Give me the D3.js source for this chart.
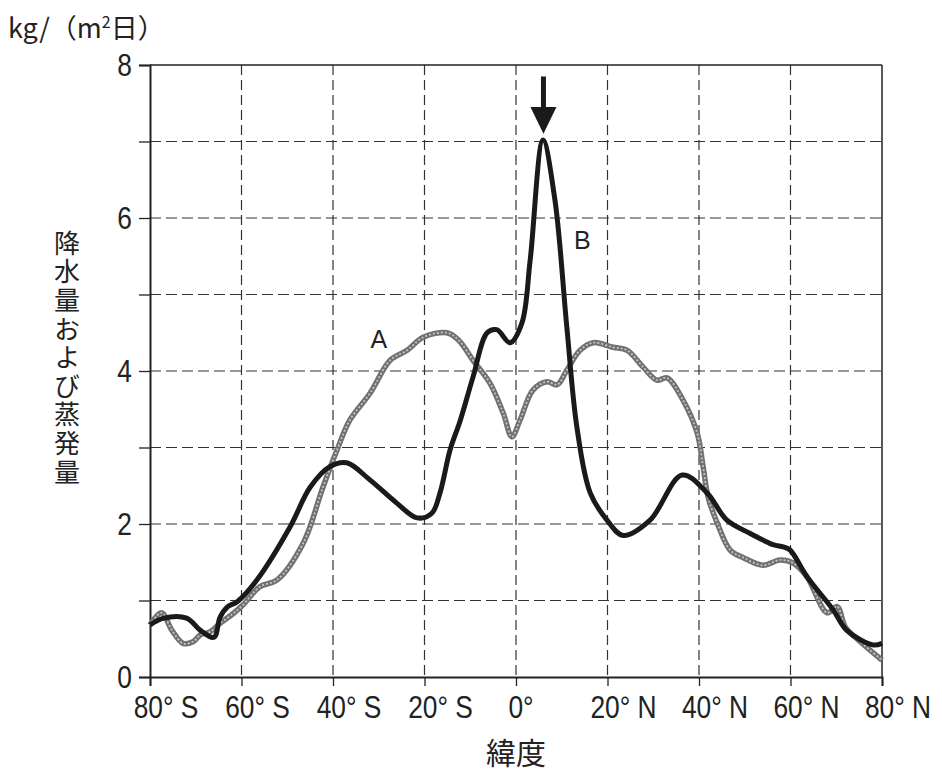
<!DOCTYPE html>
<html>
<head>
<meta charset="utf-8">
<script src="https://cdn.jsdelivr.net/npm/d3@7"></script>
<style>
  body { margin: 0; background: #fff; }
  text { font-family: "Liberation Sans", Arial, sans-serif; fill: #222; }
  .jp { font-family: "Noto Sans CJK JP", sans-serif; }
</style>
</head>
<body>
<div id="chart"></div>
<script>
// latitude ticks and labels
const latTicks = [-80, -60, -40, -20, 0, 20, 40, 60, 80];
const latLabels = ["80° S", "60° S", "40° S", "20° S", "0°", "20° N", "40° N", "60° N", "80° N"];
const valTicks = [0, 2, 4, 6, 8];

// curve A (gray): [latitude, kg/(m2 day)]
const seriesA = [
  [-80, 0.68], [-77.5, 0.84], [-75.2, 0.61], [-72.8, 0.44], [-70.6, 0.46], [-69, 0.55],
  [-66.9, 0.59], [-64.7, 0.70], [-61.8, 0.83], [-59.7, 0.94], [-56, 1.18], [-52.2, 1.27],
  [-46.5, 1.75], [-42.2, 2.48], [-39.1, 2.97], [-36.3, 3.36], [-31.9, 3.71], [-27.5, 4.14],
  [-23.8, 4.27], [-20.3, 4.44], [-15.1, 4.5], [-12.5, 4.4], [-9.4, 4.14], [-5.7, 3.84],
  [-2.8, 3.45], [-0.9, 3.14], [0.9, 3.36], [3.7, 3.75], [6.8, 3.86], [9, 3.82],
  [11.1, 4.01], [14, 4.27], [16.9, 4.37], [21.2, 4.31], [24.3, 4.27], [27.8, 4.05],
  [30.8, 3.88], [33, 3.91], [36.5, 3.62], [39.6, 3.19], [40.9, 2.75], [42, 2.35],
  [44, 2.01], [46.8, 1.66], [49.7, 1.56], [54, 1.46], [57.7, 1.53], [60.6, 1.49],
  [63.6, 1.31], [68, 0.84], [70.2, 0.92], [72, 0.65], [74.9, 0.48], [80, 0.22]
];

// curve B (black)
const seriesB = [
  [-80, 0.68], [-77, 0.77], [-72, 0.77], [-69, 0.61], [-66, 0.52], [-64.7, 0.78],
  [-63, 0.92], [-61, 0.98], [-56.6, 1.27], [-49.4, 1.96], [-45, 2.48], [-40.7, 2.75],
  [-37, 2.80], [-32, 2.58], [-26, 2.27], [-21.6, 2.08], [-18.4, 2.14], [-16.6, 2.41],
  [-14.4, 2.97], [-12.2, 3.35], [-9.4, 3.92], [-6.3, 4.5], [-4.2, 4.54], [-1.3, 4.37],
  [1.3, 4.63], [3.1, 5.45], [5.9, 7.02], [8.5, 6.24], [11.1, 4.58], [13.3, 3.27],
  [16.2, 2.41], [19.9, 2.05], [23.4, 1.85], [29.3, 2.05], [36.3, 2.64], [41.7, 2.41],
  [46.1, 2.05], [51.1, 1.88], [56.2, 1.73], [58.4, 1.70], [59.9, 1.66], [63.6, 1.31],
  [69.3, 0.88], [72.3, 0.61], [78, 0.42], [80, 0.44]
];

const width = 942, height = 773;
const margin = { top: 65, right: 60, bottom: 96, left: 150 };
const w = width - margin.left - margin.right,
      h = height - margin.top - margin.bottom;

const svg = d3.select("#chart").append("svg")
  .attr("width", width)
  .attr("height", height);

const g = svg.append("g")
  .attr("transform", "translate(" + margin.left + "," + margin.top + ")");

const x = d3.scaleLinear().domain([-80, 80]).range([0, w]);
const y = d3.scaleLinear().domain([0, 8]).range([h, 0]);

// grid
g.selectAll(".hgrid")
  .data(d3.range(1, 8))
  .enter().append("line")
  .attr("x1", 0).attr("x2", w)
  .attr("y1", d => y(d)).attr("y2", d => y(d))
  .attr("stroke", "#333").attr("stroke-width", 1.2)
  .attr("stroke-dasharray", "11,5");

g.selectAll(".vgrid")
  .data(latTicks.slice(1, -1))
  .enter().append("line")
  .attr("y1", 0).attr("y2", h)
  .attr("x1", d => x(d)).attr("x2", d => x(d))
  .attr("stroke", "#333").attr("stroke-width", 1.2)
  .attr("stroke-dasharray", "10,5");

// frame
g.append("line").attr("x1", 0).attr("x2", w).attr("y1", 0).attr("y2", 0)
  .attr("stroke", "#222").attr("stroke-width", 1.5);
g.append("line").attr("x1", w).attr("x2", w).attr("y1", 0).attr("y2", h)
  .attr("stroke", "#222").attr("stroke-width", 1.5);

// axes
const xAxis = d3.axisBottom(x).tickValues(latTicks).tickSize(9).tickFormat("");
const yAxis = d3.axisLeft(y).tickValues(d3.range(0, 9)).tickSize(11).tickFormat("");

const gx = g.append("g").attr("transform", "translate(0," + h + ")").call(xAxis);
const gy = g.append("g").call(yAxis);
gx.select(".domain").attr("stroke", "#222").attr("stroke-width", 2);
gy.select(".domain").attr("stroke", "#222").attr("stroke-width", 2);
g.selectAll(".tick line").attr("stroke", "#222").attr("stroke-width", 1.3);

// tick labels (slightly condensed like the print)
g.selectAll(".xlab")
  .data(latTicks)
  .enter().append("text")
  .attr("transform", (d, i) => "translate(" + (x(d) + (i === 4 ? 5 : 16)) + "," + (h + 41) + ") scale(0.85,1)")
  .attr("text-anchor", "middle")
  .style("font-size", "31px")
  .text((d, i) => latLabels[i]);

g.selectAll(".ylab")
  .data(valTicks)
  .enter().append("text")
  .attr("transform", d => "translate(-18," + (y(d) + 11) + ") scale(0.85,1)")
  .attr("text-anchor", "end")
  .style("font-size", "31px")
  .text(d => d);

// lines
const line = d3.line()
  .curve(d3.curveCatmullRom.alpha(0.5))
  .x(d => x(d[0])).y(d => y(d[1]));

g.append("path").datum(seriesA)
  .attr("d", line).attr("fill", "none")
  .attr("stroke", "#707070").attr("stroke-width", 5.5)
  .attr("stroke-linejoin", "round");
g.append("path").datum(seriesA)
  .attr("d", line).attr("fill", "none")
  .attr("stroke", "#c4c4c4").attr("stroke-width", 1.8)
  .attr("stroke-dasharray", "2,2")
  .attr("stroke-linejoin", "round");

g.append("path").datum(seriesB)
  .attr("d", line).attr("fill", "none")
  .attr("stroke", "#1a1a1a").attr("stroke-width", 5)
  .attr("stroke-linejoin", "round");

// curve labels
g.append("text").attr("x", x(-30)).attr("y", y(4.3))
  .attr("text-anchor", "middle").style("font-size", "25px").text("A");
g.append("text").attr("x", x(14.5)).attr("y", y(5.6))
  .attr("text-anchor", "middle").style("font-size", "25px").text("B");

// arrow pointing at the peak of B
const ax = x(6);
g.append("line").attr("x1", ax).attr("x2", ax)
  .attr("y1", y(7.85)).attr("y2", y(7.4))
  .attr("stroke", "#1a1a1a").attr("stroke-width", 5);
g.append("path")
  .attr("d", "M" + (ax - 13) + "," + y(7.45) + "L" + (ax + 13) + "," + y(7.45) + "L" + ax + "," + y(7.1) + "Z")
  .attr("fill", "#1a1a1a");

// unit
svg.append("text").attr("class", "jp")
  .attr("x", 8).attr("y", 38)
  .style("font-size", "27px")
  .html("kg/（m<tspan dy='-10' style='font-size:16px'>2</tspan><tspan dy='10'>日）</tspan>");

// vertical y title, one text element
svg.append("text").attr("class", "jp")
  .attr("x", 67).attr("y", 230)
  .style("writing-mode", "vertical-rl")
  .style("font-size", "26px")
  .style("letter-spacing", "2.6px")
  .text("降水量および蒸発量");

// x title
svg.append("text").attr("class", "jp")
  .attr("x", 516).attr("y", 764)
  .attr("text-anchor", "middle")
  .style("font-size", "30px")
  .text("緯度");
</script>
</body>
</html>
